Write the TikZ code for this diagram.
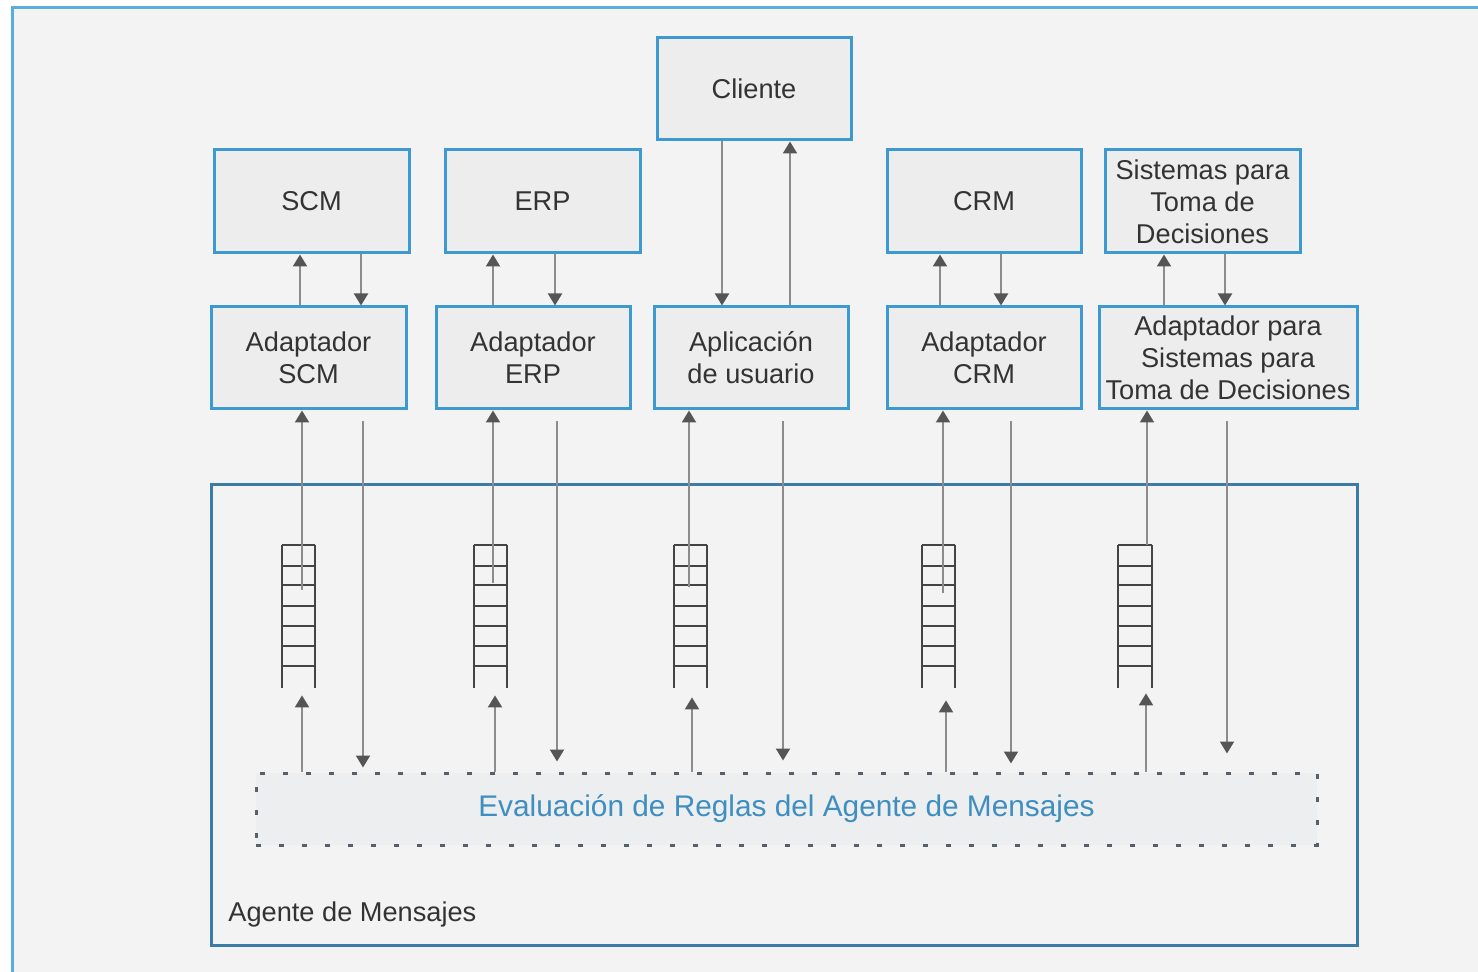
\documentclass[tikz,border=0pt]{standalone}
\usepackage{fontspec}
\setmainfont{Liberation Sans}
\usetikzlibrary{arrows.meta,calc}
\definecolor{bgc}{HTML}{F3F3F3}
\definecolor{boxfill}{HTML}{EDEDED}
\definecolor{boxline}{HTML}{3D9AD1}
\definecolor{agentline}{HTML}{3A7CA5}
\definecolor{framec}{HTML}{5BAEDC}
\definecolor{txt}{HTML}{333333}
\definecolor{linec}{HTML}{8C8C8C}
\definecolor{tipc}{HTML}{555555}
\definecolor{evaltxt}{HTML}{3E8EC0}
\definecolor{dotc}{HTML}{55606A}
\definecolor{evalfill}{HTML}{ECEEF0}
\definecolor{queuec}{HTML}{444444}
\tikzset{
  sysbox/.style={draw=boxline, line width=1.5pt, fill=boxfill, rectangle,
    align=center, text=txt, inner sep=0pt,
    font=\fontsize{13.6}{16}\selectfont},
  arr/.style={draw=linec, line width=1pt,
    -{Triangle[width=7pt,length=6pt,color=tipc]}},
  queuebox/.style={rectangle, inner sep=0pt, minimum width=16.5pt, minimum height=71.5pt},
  qline/.style={draw=queuec, line width=1pt},
}
\begin{document}
\begin{tikzpicture}[x=0.5pt,y=-0.5pt]
\useasboundingbox (0,0) rectangle (1478,972);
\fill[white] (0,0) rectangle (1478,972);
\fill[bgc] (12,8) rectangle (1478,972);
\draw[framec, line width=1.5pt] (12,972) -- (12,8) -- (1478,8);

% top systems
\node[sysbox, minimum width=97pt, minimum height=51pt] (cli) at (754,89) {Cliente};
\node[sysbox, minimum width=97.5pt, minimum height=51.5pt] (scm) at (311.5,201.5) {SCM};
\node[sysbox, minimum width=97.5pt, minimum height=51.5pt] (erp) at (542.5,201.5) {ERP};
\node[sysbox, minimum width=97pt, minimum height=51.5pt] (crm) at (984,201.5) {CRM};
\node[sysbox, minimum width=97.5pt, minimum height=51.5pt] (dss) at (1202.5,201.5) {Sistemas para\\Toma de\\Decisiones};

% adapters
\node[sysbox, minimum width=97.5pt, minimum height=51pt] (ascm) at (308.5,358) {Adaptador\\SCM};
\node[sysbox, minimum width=97pt, minimum height=51pt] (aerp) at (533,358) {Adaptador\\ERP};
\node[sysbox, minimum width=97pt, minimum height=51pt] (app) at (751,358) {Aplicación\\de usuario};
\node[sysbox, minimum width=97pt, minimum height=51pt] (acrm) at (984,358) {Adaptador\\CRM};
\node[sysbox, minimum width=129pt, minimum height=51pt] (adss) at (1228,358) {Adaptador para\\Sistemas para\\Toma de Decisiones};

% agent box
\node[draw=agentline, line width=1.5pt, rectangle, minimum width=573pt, minimum height=230pt, inner sep=0pt] (agent) at (784,715) {};
\node[anchor=base west, text=txt, font=\fontsize{13.6}{16}\selectfont, inner sep=0pt] (agentlbl) at (228,921) {Agente de Mensajes};

% rule evaluation
\node[draw=dotc, line width=1.5pt, dash pattern=on 2.5pt off 9pt, fill=evalfill, rectangle,
  minimum width=530.5pt, minimum height=36pt, inner sep=0pt, text=evaltxt,
  font=\fontsize{14.9}{17}\selectfont] (eval) at (786.5,809) {Evaluación de Reglas del Agente de Mensajes};

% upper arrows (system <-> adapter)
\draw[arr] ($(ascm.north)+(-8.5,0)$) -- ($(scm.south)+(-11.5,0)$);
\draw[arr] ($(scm.south)+(49.5,0)$) -- ($(ascm.north)+(52.5,0)$);
\draw[arr] ($(aerp.north)+(-40,0)$) -- ($(erp.south)+(-49.5,0)$);
\draw[arr] ($(erp.south)+(12.5,0)$) -- ($(aerp.north)+(22,0)$);
\draw[arr] ($(cli.south)+(-32,0)$) -- ($(app.north)+(-29,0)$);
\draw[arr] ($(app.north)+(39,0)$) -- ($(cli.south)+(36,0)$);
\draw[arr] ($(acrm.north)+(-44,0)$) -- ($(crm.south)+(-44,0)$);
\draw[arr] ($(crm.south)+(17,0)$) -- ($(acrm.north)+(17,0)$);
\draw[arr] ($(adss.north)+(-64,0)$) -- ($(dss.south)+(-38.5,0)$);
\draw[arr] ($(dss.south)+(22.5,0)$) -- ($(adss.north)+(-3,0)$);

% queues
\foreach \n/\cx in {q1/298.5, q2/490.5, q3/690.5, q4/938.5, q5/1135}{
  \node[queuebox] (\n) at (\cx,616.5) {};
  \draw[qline] (\n.north west) -- (\n.south west);
  \draw[qline] (\n.north east) -- (\n.south east);
  \foreach \dy in {0,21,40,61,81,101,121}{
    \draw[qline] ($(\n.north west)+(0,\dy)$) -- ($(\n.north east)+(0,\dy)$);
  }
}

% lower arrows
\foreach \a/\q/\ux/\lx/\dx/\qs/\ut/\dt in {
  ascm/q1/302/302/363/45/7/4,
  aerp/q2/493/495/557/38/7/10,
  app/q3/689/692/783/42/9/11,
  acrm/q4/943/946/1011/48/12/8,
  adss/q5/1147/1146/1227/0/5/18}{
  \coordinate (U) at (\ux,0);
  \coordinate (L) at (\lx,0);
  \coordinate (D) at (\dx,0);
  \draw[arr] ($(\q.north -| U)+(0,\qs)$) -- (\a.south -| U);
  \draw[arr] (eval.north -| L) -- ($(\q.south -| L)+(0,\ut)$);
  \draw[arr] ($(\a.south -| D)+(0,11)$) -- ($(eval.north -| D)+(0,-\dt)$);
}
\end{tikzpicture}
\end{document}
